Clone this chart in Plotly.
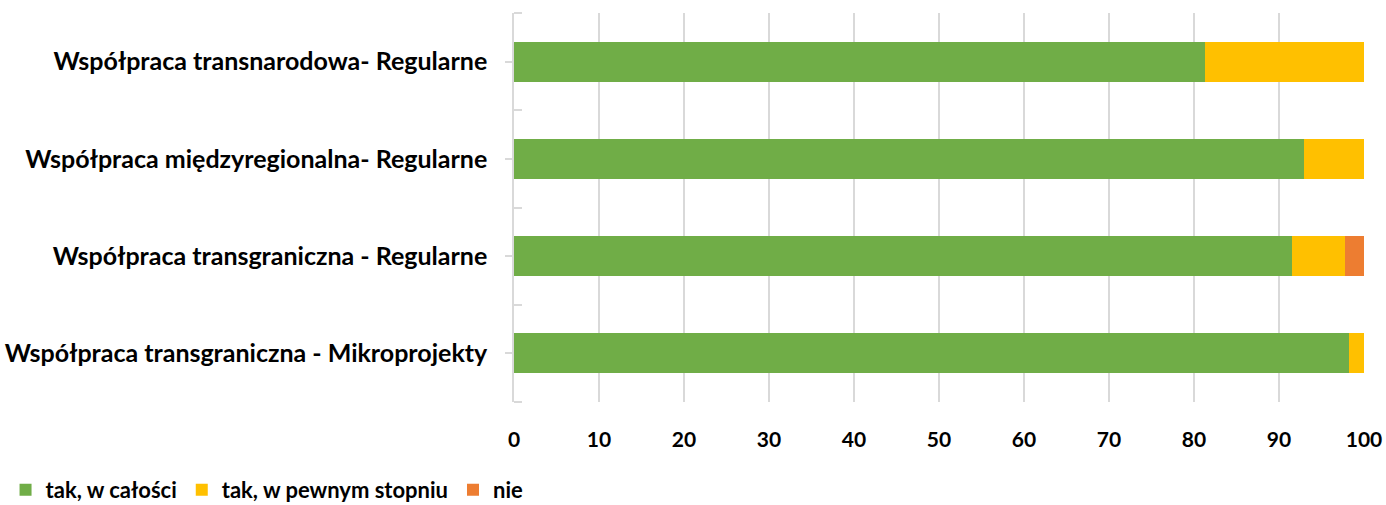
import plotly.graph_objects as go

categories = [
    "Współpraca transgraniczna - Mikroprojekty",
    "Współpraca transgraniczna - Regularne",
    "Współpraca międzyregionalna- Regularne",
    "Współpraca transnarodowa- Regularne",
]
tak_w_calosci = [98.2, 91.5, 92.9, 81.3]
tak_w_pewnym_stopniu = [1.8, 6.3, 7.1, 18.7]
nie = [0.0, 2.2, 0.0, 0.0]

series_names = ["tak, w całości", "tak, w pewnym stopniu", "nie"]
series_values = [tak_w_calosci, tak_w_pewnym_stopniu, nie]
colors = ["#70ad47", "#ffc000", "#ed7d31"]

x_ticks = [0, 10, 20, 30, 40, 50, 60, 70, 80, 90, 100]

positions = list(range(len(categories)))

fig = go.Figure()
for name, vals, col in zip(series_names, series_values, colors):
    fig.add_trace(go.Bar(
        y=positions, x=vals, name=name, orientation="h",
        marker=dict(color=col, line=dict(width=0)),
        width=0.41,
    ))

font_family = "Lato, 'Open Sans', sans-serif"
fig.update_layout(
    barmode="stack",
    width=1386, height=505,
    margin=dict(l=514, r=22, t=13, b=103, autoexpand=False),
    plot_bgcolor="white", paper_bgcolor="white",
    font=dict(family=font_family, size=19, color="#000000"),
    xaxis=dict(
        range=[0, 100], tickvals=x_ticks, showgrid=True,
        gridcolor="#d9d9d9", gridwidth=1.5, zeroline=False,
        showline=False, ticks="", automargin=False,
        tickfont=dict(family=font_family, size=21, color="#000000", weight="bold"),
        ticklabelstandoff=23,
    ),
    yaxis=dict(
        range=[-0.5, 3.5], tickvals=positions, ticktext=categories,
        showgrid=False, showline=True, automargin=False,
        linecolor="#d9d9d9", linewidth=1.5, ticks="outside", ticklen=7,
        tickcolor="#d9d9d9", tickwidth=1.5,
        minor=dict(tick0=0.5, dtick=1, ticks="inside", ticklen=8,
                   tickcolor="#d9d9d9", tickwidth=1.5, showgrid=False),
        tickfont=dict(family=font_family, size=25, color="#000000", weight="bold"),
        ticklabelstandoff=13,
    ),
    legend=dict(
        orientation="h", xref="container", yref="container",
        x=0.004, y=0.03, xanchor="left", yanchor="middle",
        font=dict(family=font_family, size=22, color="#000000", weight="bold"),
        itemwidth=30, traceorder="normal",
    ),
)

fig.write_html(
    "out.html",
    config={"displayModeBar": False},
    post_script="document.body.style.margin='0';document.body.style.overflow='hidden';",
)
